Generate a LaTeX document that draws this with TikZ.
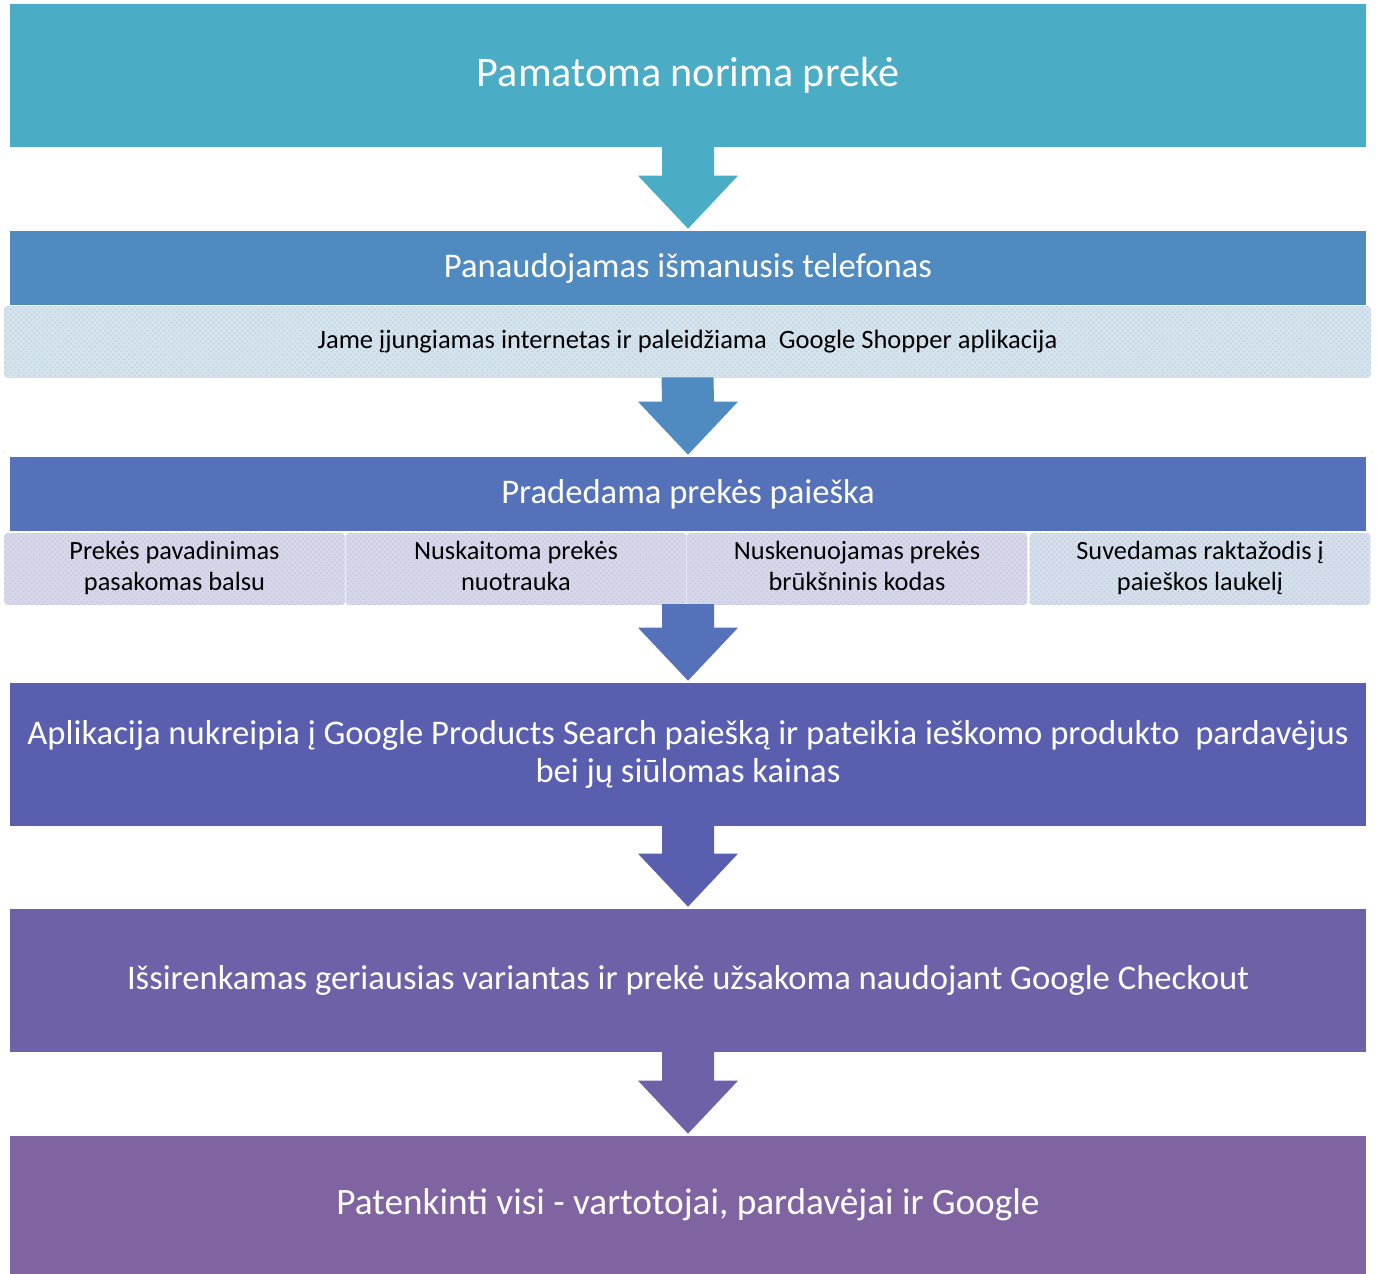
\documentclass[tikz,border=0pt]{standalone}
\usepackage{fontspec}
\setmainfont{Carlito}
\usetikzlibrary{positioning, calc, patterns}
\definecolor{stepa}{HTML}{4BACC6}
\definecolor{stepb}{HTML}{4F8BC0}
\definecolor{stepc}{HTML}{5471B9}
\definecolor{stepd}{HTML}{5A5EAE}
\definecolor{stepe}{HTML}{6E61A8}
\definecolor{stepf}{HTML}{8064A1}
\definecolor{subblue}{HTML}{D4E3EC}
\definecolor{sublilac}{HTML}{D7D7EA}
\definecolor{subgrey}{HTML}{D4DFEB}

\begin{document}
\begin{tikzpicture}[x=0.02cm, y=-0.02cm,
  bar/.style={fill=#1, text=white, inner sep=0pt, minimum width=27.12cm, align=center},
  sub/.style={fill=#1, rounded corners=2pt, inner sep=0pt, minimum height=1.44cm, align=center,
    font=\fontsize{15}{17.2}\selectfont, postaction={pattern=crosshatch dots, pattern color=#1!82!stepc}}]
  \useasboundingbox (0,0) rectangle (1379,1274);

  \node[bar=stepa, minimum height=2.86cm, font=\fontsize{24}{29}\selectfont] (see) at (688,75.5) {Pamatoma norima prekė};
  \node[bar=stepb, minimum height=1.48cm, font=\fontsize{19.7}{21.6}\selectfont] (phone) at (688,268) {Panaudojamas išmanusis telefonas};
  \node[sub=subblue, minimum width=27.34cm, font=\fontsize{15.1}{17}\selectfont] (phonesub) at (687.5,342)
    {Jame įjungiamas internetas ir paleidžiama \ Google Shopper aplikacija};
  \node[bar=stepc, minimum height=1.48cm, font=\fontsize{19.7}{21.6}\selectfont] (search) at (688,494) {Pradedama prekės paieška};

  \foreach \n/\x/\c/\t in {voice/174.5/sublilac/{\strut Prekės pavadinimas\\\strut pasakomas balsu},
                           photo/516/sublilac/{\strut Nuskaitoma prekės\\\strut nuotrauka},
                           code/857/sublilac/{\strut Nuskenuojamas prekės\\\strut brūkšninis kodas},
                           word/1200/subgrey/{\strut Suvedamas raktažodis į\\\strut paieškos laukelį}} {
    \node[sub=\c, minimum width=6.82cm] (\n) at (\x,569) {\t};
  }
  \coordinate (row) at (688,605);

  \node[bar=stepd, minimum height=2.86cm, font=\fontsize{19.7}{21.6}\selectfont] (result) at (688,754.5)
    {Aplikacija nukreipia į Google Products Search paiešką ir pateikia ieškomo produkto \ pardavėjus\\bei jų siūlomas kainas};
  \node[bar=stepe, minimum height=2.86cm, font=\fontsize{19.7}{21.6}\selectfont] (order) at (688,980.5)
    {Išsirenkamas geriausias variantas ir prekė užsakoma naudojant Google Checkout};
  \node[bar=stepf, minimum height=2.76cm, font=\fontsize{21.2}{25}\selectfont] (happy) at (688,1205)
    {Patenkinti visi - vartotojai, pardavėjai ir Google};

  \foreach \a/\b/\c in {see.south/phone.north/stepa, phonesub.south/search.north/stepb,
                        row/result.north/stepc, result.south/order.north/stepd, order.south/happy.north/stepe} {
    \fill[\c] ($(\a)+(-26,-1)$) -- ($(\b)+(-26,-55)$) -- ($(\b)+(-50,-55)$) -- ($(\b)+(0,-2)$)
      -- ($(\b)+(50,-55)$) -- ($(\b)+(26,-55)$) -- ($(\a)+(26,-1)$) -- cycle;
  }
\end{tikzpicture}
\end{document}
